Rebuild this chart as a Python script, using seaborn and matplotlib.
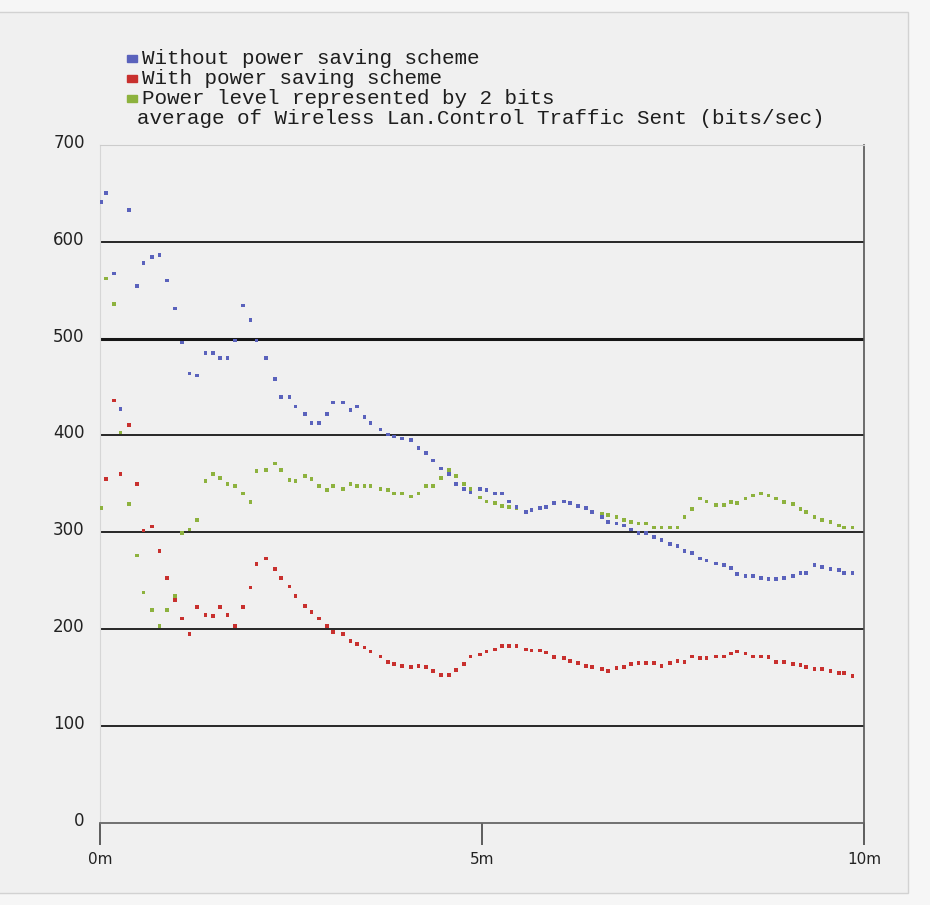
import matplotlib
matplotlib.use("Agg")
import matplotlib.pyplot as plt
import matplotlib.transforms as mtransforms
from matplotlib.patches import Rectangle
import numpy as np
import pandas as pd
import seaborn as sns

# ---------------- data ----------------
minutes = [0.01, 0.075, 0.18, 0.27, 0.38, 0.48, 0.57, 0.68, 0.78, 0.88,
           0.98, 1.07, 1.17, 1.27, 1.38, 1.48, 1.57, 1.67, 1.77, 1.87,
           1.97, 2.05, 2.17, 2.29, 2.37, 2.48, 2.56, 2.68, 2.77, 2.87,
           2.97, 3.05, 3.18, 3.28, 3.36, 3.46, 3.54, 3.67, 3.77, 3.85,
           3.95, 4.07, 4.17, 4.27, 4.36, 4.46, 4.57, 4.66, 4.76, 4.85,
           4.97, 5.06, 5.17, 5.26, 5.35, 5.45, 5.58, 5.65, 5.76, 5.84,
           5.94, 6.07, 6.15, 6.26, 6.36, 6.44, 6.57, 6.65, 6.76, 6.86,
           6.95, 7.05, 7.15, 7.25, 7.35, 7.46, 7.56, 7.65, 7.75, 7.85,
           7.94, 8.06, 8.17, 8.26, 8.34, 8.45, 8.55, 8.65, 8.75, 8.85,
           8.95, 9.07, 9.17, 9.24, 9.35, 9.45, 9.56, 9.67, 9.74, 9.85]

without_saving = [641, 650, 567, 427, 633, 554, 578, 584, 586, 560,
                  531, 496, 464, 462, 485, 485, 480, 480, 498, 534,
                  519, 498, 480, 458, 440, 440, 430, 422, 413, 413,
                  422, 434, 434, 426, 430, 419, 413, 406, 401, 399,
                  397, 395, 387, 382, 374, 366, 360, 350, 345, 341,
                  345, 344, 340, 340, 332, 326, 321, 323, 325, 326,
                  330, 332, 330, 327, 325, 321, 316, 311, 309, 307,
                  303, 299, 299, 295, 292, 288, 286, 281, 279, 273,
                  271, 268, 266, 263, 257, 255, 255, 253, 252, 252,
                  253, 255, 258, 258, 266, 264, 262, 261, 258, 258]

with_saving = [None, 355, 436, 360, 411, 350, 302, 306, 281, 253,
               230, 211, 195, 223, 215, 214, 223, 215, 203, 223,
               243, 267, 273, 262, 253, 244, 234, 224, 218, 211,
               203, 197, 195, 188, 185, 181, 177, 172, 166, 164,
               162, 161, 162, 161, 157, 153, 153, 158, 164, 172,
               174, 177, 179, 183, 183, 183, 179, 178, 178, 176,
               171, 170, 167, 165, 162, 161, 159, 157, 160, 161,
               164, 165, 165, 165, 162, 165, 167, 166, 172, 170,
               170, 172, 172, 175, 177, 175, 172, 172, 171, 166,
               166, 164, 163, 161, 159, 159, 157, 155, 155, 152]

two_bit_level = [325, 562, 536, 403, 329, 276, 238, 220, 203, 220,
                 234, 299, 303, 313, 353, 360, 356, 350, 348, 340,
                 331, 363, 364, 371, 364, 354, 353, 358, 355, 348,
                 344, 348, 345, 350, 348, 348, 348, 345, 344, 340,
                 340, 337, 340, 348, 348, 356, 364, 358, 350, 345,
                 336, 332, 330, 327, 326, 325, 321, 323, 325, 326,
                 330, 332, 330, 327, 325, 321, 319, 318, 316, 313,
                 311, 309, 309, 305, 305, 305, 305, 316, 324, 335,
                 332, 328, 328, 331, 330, 335, 338, 340, 338, 335,
                 331, 329, 324, 321, 316, 313, 311, 307, 305, 305]

series_names = ["Without power saving scheme",
                "With power saving scheme",
                "Power level represented by 2 bits"]
series_colors = ["#5a62bc", "#c8302e", "#8db23e"]
chart_title = "average of Wireless Lan.Control Traffic Sent (bits/sec)"
y_ticks = [0, 100, 200, 300, 400, 500, 600, 700]
grid_levels = [100, 200, 300, 400, 500, 600]
x_ticks = [0, 5, 10]
x_tick_labels = ["0m", "5m", "10m"]

# ---------------- build long table (green drawn first, blue on top) ----------------
frames = []
for name, vals in [(series_names[2], two_bit_level),
                   (series_names[1], with_saving),
                   (series_names[0], without_saving)]:
    frames.append(pd.DataFrame({"minute": minutes, "value": vals, "series": name}))
df = pd.concat(frames, ignore_index=True).dropna()
df["value"] = df["value"].astype(float)

# ---------------- figure ----------------
sns.set_theme(style="white")
plt.rcParams["font.family"] = ["DejaVu Sans"]

W, H = 930, 905
fig = plt.figure(figsize=(W / 100, H / 100), dpi=100, facecolor="#f6f6f6")

# scanned page panel
fig.patches.append(Rectangle((-5 / W, 1 - 893 / H), 913 / W, (893 - 12) / H,
                             transform=fig.transFigure, facecolor="#f0f0f0",
                             edgecolor="#d2d2d2", linewidth=1.0, zorder=-5))

ax = fig.add_axes([100 / W, (H - 823) / H, 764 / W, (823 - 144.8) / H])
ax.set_facecolor("none")

palette = dict(zip(series_names, series_colors))
sns.scatterplot(data=df, x="minute", y="value", hue="series", palette=palette,
                marker="s", s=7, linewidth=0, legend=False, ax=ax, zorder=3)

ax.set_xlim(0, 10)
ax.set_ylim(0, 700)

for lvl in grid_levels:
    ax.axhline(lvl, color="#161616", lw=2.2 if lvl == 500 else 1.3, zorder=1)

ax.set_yticks(y_ticks)
ax.set_yticklabels([str(v) for v in y_ticks])
ax.set_xticks(x_ticks)
ax.set_xticklabels(x_tick_labels)
ax.set_xlabel("")
ax.set_ylabel("")

ax.tick_params(axis="y", length=0, pad=11, labelsize=12, labelcolor="#222222")
ax.tick_params(axis="x", direction="out", length=16, width=1.2, color="#444444",
               pad=5, labelsize=11, labelcolor="#222222", bottom=True)
offset = mtransforms.ScaledTranslation(0, 4 / 100, fig.dpi_scale_trans)
for lab in ax.get_yticklabels():
    lab.set_transform(lab.get_transform() + offset)

ax.spines["left"].set_color("#d6d6d6")
ax.spines["left"].set_linewidth(0.8)
ax.spines["top"].set_color("#cccccc")
ax.spines["top"].set_linewidth(0.8)
ax.spines["right"].set_color("#555555")
ax.spines["right"].set_linewidth(1.2)
ax.spines["bottom"].set_color("#666666")
ax.spines["bottom"].set_linewidth(1.3)

# ---------------- legend and title (monospace, top-left) ----------------
mono = ["Liberation Mono", "DejaVu Sans Mono"]
for i, (name, col) in enumerate(zip(series_names, series_colors)):
    yc = 58 + 20 * i
    fig.patches.append(Rectangle((127 / W, 1 - (yc + 4) / H), 10 / W, 7 / H,
                                 transform=fig.transFigure, color=col, zorder=5))
    fig.text(142 / W, 1 - yc / H, name, ha="left", va="center",
             family=mono, size=15, color="#1e1e1e")
fig.text(137 / W, 1 - 118 / H, chart_title, ha="left", va="center",
         family=mono, size=15, color="#1e1e1e")

fig.savefig("out.png", dpi=100, facecolor=fig.get_facecolor())
